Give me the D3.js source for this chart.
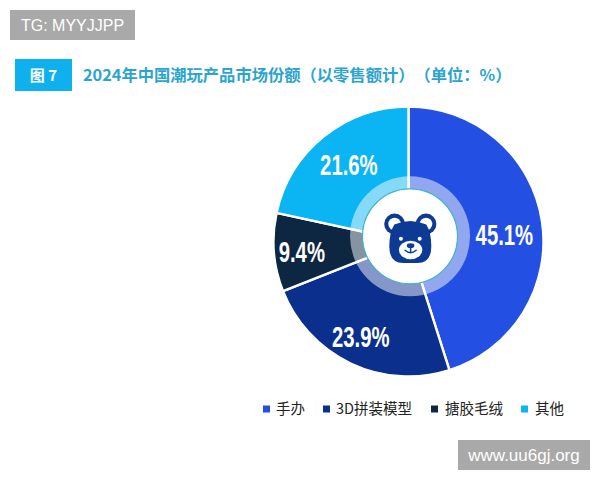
<!DOCTYPE html>
<html lang="zh">
<head>
<meta charset="utf-8">
<script src="https://cdn.jsdelivr.net/npm/d3@7/dist/d3.min.js"></script>
<style>
  html, body { margin: 0; padding: 0; background: #fff; }
  svg { display: block; }
  text { font-family: "Noto Sans CJK SC", "Noto Sans", sans-serif; text-spacing-trim: space-all; }
</style>
</head>
<body>
<svg id="chart" width="600" height="480"></svg>
<script>
// Market share by product type, in percent
const categories = ["手办", "3D拼装模型", "搪胶毛绒", "其他"];
const shares = [45.1, 23.9, 9.4, 21.6];
const sliceColors = ["#2350e2", "#0a2f8c", "#0d2742", "#0bb4f2"];
// Fine placement of each percentage label relative to its slice centroid
const labelNudgeX = [2, -7, -12, 0];
const labelNudgeY = [8, 9, 2, -3];
const legendX = [263, 323, 431, 521];
const legendTextX = [276, 336, 445, 535];

const svg = d3.select("#chart");
const cx = 408.5, cy = 241.5, radius = 135;
const ringX = 410, ringY = 236.3;

// Watermark plates
function plate(x, y, w, h, label, size) {
  svg.append("rect").attr("x", x).attr("y", y).attr("width", w).attr("height", h).attr("fill", "#a9a9a9");
  svg.append("text").attr("x", x + w / 2).attr("y", y + h / 2 + size * 0.36)
    .attr("text-anchor", "middle").attr("fill", "#fff").attr("font-size", size)
    .style("font-family", "'Liberation Sans', sans-serif").text(label);
}
plate(10, 10, 125, 30, "TG: MYYJJPP", 16);
plate(458, 440, 132, 30, "www.uu6gj.org", 17);

// Figure heading
svg.append("rect").attr("x", 15).attr("y", 59).attr("width", 57).attr("height", 32).attr("fill", "#0fb0ee");
svg.append("text").attr("x", 43.5).attr("y", 81).attr("text-anchor", "middle")
  .attr("fill", "#fff").attr("font-size", 15).attr("font-weight", 700).text("图 7");
svg.append("text").attr("x", 83).attr("y", 81).attr("fill", "#2ba4cf")
  .attr("font-size", 16.3).attr("font-weight", 700)
  .text("2024年中国潮玩产品市场份额（以零售额计）（单位：%）");

// Pie slices
const pie = d3.pie().sort(null).value(d => d);
const arc = d3.arc().innerRadius(0).outerRadius(radius);
const labelArc = d3.arc().innerRadius(95).outerRadius(95);
const pieG = svg.append("g").attr("transform", `translate(${cx},${cy})`);
const arcs = pie(shares);

pieG.selectAll("path").data(arcs).join("path")
  .attr("d", arc)
  .attr("fill", (d, i) => sliceColors[i])
  .attr("stroke", "#fff")
  .attr("stroke-width", 2.4);

// Translucent ring and white hub
svg.append("circle").attr("cx", ringX).attr("cy", ringY).attr("r", 60)
  .attr("fill", "#fff").attr("fill-opacity", 0.5);
svg.append("circle").attr("cx", ringX).attr("cy", ringY).attr("r", 47.5)
  .attr("fill", "#fff").attr("stroke", "#3fb4cf").attr("stroke-width", 1.2);

// Percentage labels, set in a horizontally condensed bold face
pieG.selectAll("text").data(arcs).join("text")
  .attr("transform", (d, i) => {
    const [x, y] = labelArc.centroid(d);
    return `translate(${x + labelNudgeX[i]},${y + labelNudgeY[i]}) scale(0.7,1)`;
  })
  .attr("text-anchor", "middle")
  .attr("dy", "0.36em")
  .attr("fill", "#fff")
  .attr("font-size", 29)
  .attr("font-weight", 700)
  .style("font-family", "'Liberation Sans', sans-serif")
  .text(d => d.data.toFixed(1) + "%");

// Bear icon in the hub
const bearColor = "#0c3a94";
const bear = svg.append("g").attr("transform", "translate(410.3,241.5)");
[-15.7, 15.7].forEach(dx => {
  bear.append("circle").attr("cx", dx).attr("cy", -17.5).attr("r", 10.4).attr("fill", bearColor);
  bear.append("circle").attr("cx", dx).attr("cy", -17.5).attr("r", 6.3).attr("fill", "#fff");
});
bear.append("path").attr("fill", bearColor)
  .attr("d", "M-16,-17 Q0,-24 16,-17 Q21,-9 21,5 Q21,21.5 7,21.5 L-7,21.5 Q-21,21.5 -21,5 Q-21,-9 -16,-17 Z");
[-9.4, 9.4].forEach(dx => bear.append("circle").attr("cx", dx).attr("cy", -2.8).attr("r", 2).attr("fill", "#fff"));
bear.append("ellipse").attr("cx", 0.3).attr("cy", 8.5).attr("rx", 11.7).attr("ry", 9.2).attr("fill", "#fff");
bear.append("ellipse").attr("cx", 0.3).attr("cy", 4.2).attr("rx", 3.8).attr("ry", 2.4).attr("fill", bearColor);
bear.append("path").attr("fill", "none").attr("stroke", bearColor).attr("stroke-width", 1.5)
  .attr("stroke-linecap", "round")
  .attr("d", "M0.3,6 V10 M-5.2,8.8 Q0.3,13.6 5.8,8.8");

// Legend
const legend = svg.append("g");
categories.forEach((name, i) => {
  legend.append("rect").attr("x", legendX[i]).attr("y", 405.5).attr("width", 7).attr("height", 7).attr("fill", sliceColors[i]);
  legend.append("text").attr("x", legendTextX[i]).attr("y", 414).attr("fill", "#222")
    .attr("font-size", 14.5).text(name);
});
</script>
</body>
</html>
